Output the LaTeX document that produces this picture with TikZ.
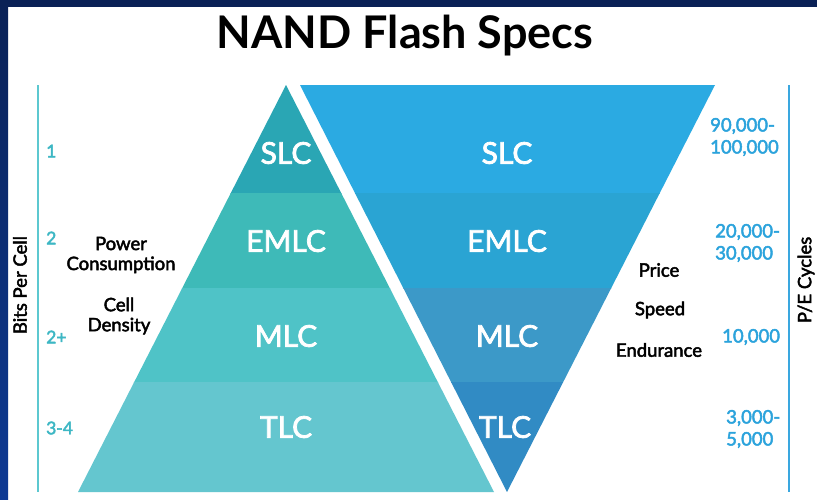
\documentclass[tikz,border=0pt]{standalone}
\usepackage{fontspec}
\setmainfont{Lato}
\newfontfamily\medfont[FakeBold=2.5]{Lato}
\definecolor{navy}{HTML}{0A2156}
\definecolor{sideblue}{HTML}{0E3A94}
\definecolor{lA}{HTML}{2AA6B4}
\definecolor{lB}{HTML}{3EBAB8}
\definecolor{lC}{HTML}{4FC3C7}
\definecolor{lD}{HTML}{64C6CF}
\definecolor{rA}{HTML}{2BAAE2}
\definecolor{rB}{HTML}{2AA4D3}
\definecolor{rC}{HTML}{3C99C8}
\definecolor{rD}{HTML}{318BC4}
\definecolor{tealline}{HTML}{5CC8D0}
\definecolor{tealtext}{HTML}{3DB7C4}
\definecolor{blueline}{HTML}{3AA7DF}
\definecolor{bluetext}{HTML}{2BA3DC}
\tikzset{
  band/.style={font=\medfont\fontsize{30}{32}\selectfont, text=white, inner sep=0pt},
  blk/.style={font=\medfont\fontsize{18.5}{20}\selectfont, text=black, align=center, inner sep=0pt},
  lnum/.style={font=\medfont\fontsize{17.5}{22}\selectfont, text=tealtext, anchor=west, inner sep=0pt},
  rnum/.style={font=\medfont\fontsize{18.5}{22}\selectfont, text=bluetext, anchor=west, align=left, inner sep=0pt},
  axis/.style={font=\medfont\fontsize{18.5}{20}\selectfont, text=black, rotate=90, inner sep=0pt}
}
\begin{document}
\begin{tikzpicture}[x=1pt,y=-1pt]
\fill[white] (0,0) rectangle (817,499);
\useasboundingbox (0,0) rectangle (817,499);
% frame
\shade[top color=navy, bottom color=sideblue] (0,0) rectangle (8,499);
\fill[navy] (0,0) rectangle (817,7);
% title
\node[font=\fontsize{45}{50}\selectfont\bfseries, inner sep=0pt] (title) at (405,36) {NAND Flash Specs};
% left triangle
\begin{scope}
\clip (286,85) -- (494,492) -- (78,492) -- cycle;
\fill[lA] (70,80) rectangle (500,193.5);
\fill[lB] (70,193) rectangle (500,288.5);
\fill[lC] (70,288) rectangle (500,382.5);
\fill[lD] (70,382) rectangle (500,495);
\end{scope}
% right triangle
\begin{scope}
\clip (300,85) -- (715,85) -- (507,492) -- cycle;
\fill[rA] (295,80) rectangle (720,193.5);
\fill[rB] (295,193) rectangle (720,288.5);
\fill[rC] (295,288) rectangle (720,382.5);
\fill[rD] (295,382) rectangle (720,495);
\end{scope}
% band labels
\node[band] (lslc) at (286,153) {SLC};
\node[band] (lemlc) at (286,241) {EMLC};
\node[band] (lmlc) at (286,336) {MLC};
\node[band] (ltlc) at (286,427) {TLC};
\node[band] (rslc) at (507,153) {SLC};
\node[band] (remlc) at (507,241) {EMLC};
\node[band] (rmlc) at (507,336) {MLC};
\node[band] (rtlc) at (505,427) {TLC};
% axes lines
\coordinate (lt) at (38,85);
\coordinate (lb) at (38,492);
\coordinate (rt) at (789,85);
\coordinate (rb) at (789,492);
\draw[tealline, line width=2pt] (lt) -- (lb);
\draw[blueline, line width=2pt] (rt) -- (rb);
\node[axis] (bpc) at (20,285) {Bits Per Cell};
\node[axis] (pec) at (806,280) {P/E Cycles};
% left numbers
\node[lnum] (n1) at (46,151) {1};
\node[lnum] (n2) at (46,238) {2};
\node[lnum] (n3) at (46,337) {2+};
\node[lnum] (n4) at (46,428) {3-4};
% left black labels
\node[blk] (pow) at (121,255) {Power\\Consumption};
\node[blk] (cd) at (119,316) {Cell\\Density};
% right black labels
\node[blk] (price) at (659,270) {Price};
\node[blk] (speed) at (660,310) {Speed};
\node[blk] (endu) at (659,350) {Endurance};
% right numbers
\node[rnum] (p1) at (710,137) {90,000-\\100,000};
\node[rnum] (p2) at (715,243) {20,000-\\30,000};
\node[rnum] (p3) at (722,337) {10,000};
\node[rnum] (p4) at (726,429) {3,000-\\5,000};
\end{tikzpicture}
\end{document}
